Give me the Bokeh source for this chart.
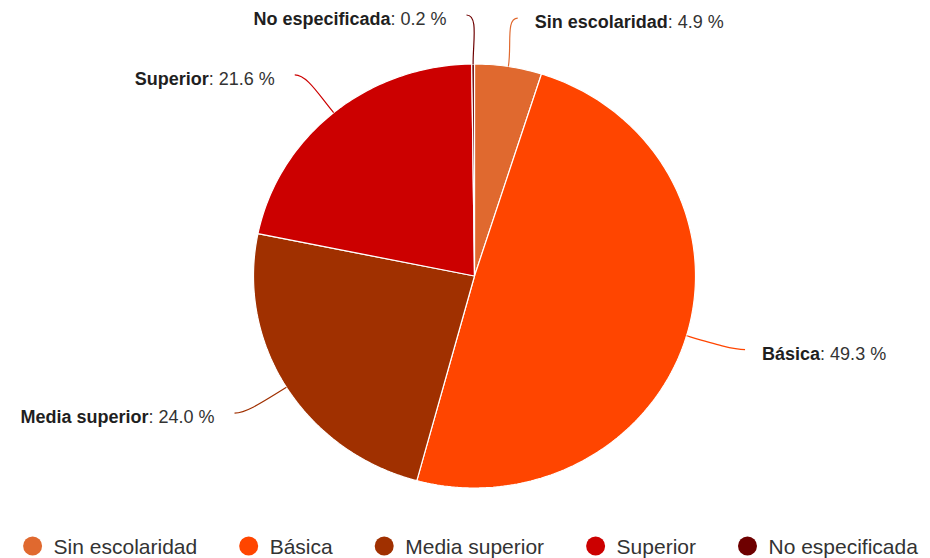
import os
import math
import numpy as np
from bokeh.plotting import figure
from bokeh.models import Range1d, ColumnDataSource
from bokeh.core.properties import value
from bokeh.embed import file_html
from bokeh.resources import INLINE

# ---- data ----
categories = ["Sin escolaridad", "Básica", "Media superior", "Superior", "No especificada"]
percentages = [4.9, 49.3, 24.0, 21.6, 0.2]
colors = ["#E0692F", "#FF4500", "#A03000", "#CC0000", "#6E0000"]

# ---- layout constants ----
W, H = 922, 558
CX, CY = 474, 275.5
RX, RY = 221, 212
LRX, LRY = RX + 61, RY + 49
FONT = "Liberation Sans"
LABEL_SIZE = 18
LEGEND_SIZE = 21


def find_font(name):
    roots = ["/usr/share/fonts", "/usr/local/share/fonts",
             os.path.expanduser("~/.fonts"), os.path.expanduser("~/.local/share/fonts")]
    for root in roots:
        for dp, dn, fn in os.walk(root):
            if name in fn:
                return os.path.join(dp, name)
    return None


try:
    from PIL import ImageFont
except Exception:
    ImageFont = None

_cache = {}


def text_width(s, size, bold=False):
    fname = "LiberationSans-Bold.ttf" if bold else "LiberationSans-Regular.ttf"
    if ImageFont is not None:
        path = find_font(fname)
        if path:
            key = (path, size)
            if key not in _cache:
                _cache[key] = ImageFont.truetype(path, size=int(round(size * 4)))
            return _cache[key].getlength(s) / 4.0
    return len(s) * size * (0.6 if bold else 0.55)


p = figure(width=W, height=H, x_range=Range1d(0, W), y_range=Range1d(H, 0),
           output_backend="svg", toolbar_location=None, min_border=0,
           x_axis_location=None, y_axis_location=None)
p.grid.visible = False
p.outline_line_color = None
p.background_fill_color = "white"
p.border_fill_color = "white"

vals = np.array(percentages, dtype=float)
fr = vals / vals.sum()
cum = np.concatenate([[0.0], np.cumsum(fr)])

xs, ys = [], []
for i in range(len(vals)):
    t = np.linspace(cum[i], cum[i + 1], max(4, int(fr[i] * 400))) * 2 * np.pi
    xs.append([CX] + list(CX + RX * np.sin(t)) + [CX])
    ys.append([CY] + list(CY - RY * np.cos(t)) + [CY])

p.patches(xs="xs", ys="ys", fill_color="color", line_color="white", line_width=1.2,
          source=ColumnDataSource(dict(xs=xs, ys=ys, color=colors)))

# connectors and labels
bx0, by0, bx1, by1, bcx0, bcy0, bcx1, bcy1, bcol = [], [], [], [], [], [], [], [], []
name_x, name_y, name_t, name_align = [], [], [], []
val_x, val_y, val_t, val_align = [], [], [], []
for i in range(len(vals)):
    m = (cum[i] + cum[i + 1]) / 2 * 2 * np.pi
    s, c = math.sin(m), math.cos(m)
    side = 1 if s >= 0 else -1
    ex, ey = CX + RX * s, CY - RY * c
    lx, ly = CX + side * max(LRX * abs(s), 8), CY - LRY * c
    d = math.hypot(lx - ex, ly - ey)
    bx0.append(ex); by0.append(ey)
    bcx0.append(ex + s * d * 0.45); bcy0.append(ey - c * d * 0.45)
    bcx1.append(lx - side * 12); bcy1.append(ly)
    bx1.append(lx); by1.append(ly)
    bcol.append(colors[i])
    nm = categories[i]
    vt = ": %.1f %%" % percentages[i]
    ty = ly + 4
    if side > 0:
        x0 = lx + 17
        name_x.append(x0); name_align.append("left")
        val_x.append(x0 + text_width(nm, LABEL_SIZE, True)); val_align.append("left")
    else:
        x1 = lx - 20
        val_x.append(x1); val_align.append("right")
        name_x.append(x1 - text_width(vt, LABEL_SIZE, False)); name_align.append("right")
    name_y.append(ty); val_y.append(ty)
    name_t.append(nm); val_t.append(vt)

p.bezier(x0="x0", y0="y0", x1="x1", y1="y1", cx0="cx0", cy0="cy0", cx1="cx1", cy1="cy1",
         line_color="color", line_width=1.2,
         source=ColumnDataSource(dict(x0=bx0, y0=by0, x1=bx1, y1=by1, cx0=bcx0, cy0=bcy0,
                                      cx1=bcx1, cy1=bcy1, color=bcol)))

p.text(x="x", y="y", text="t", text_align="a", text_baseline="middle",
       text_font=value(FONT), text_font_size="%spx" % LABEL_SIZE, text_font_style="bold",
       text_color="#1f1f1f",
       source=ColumnDataSource(dict(x=name_x, y=name_y, t=name_t, a=name_align)))
p.text(x="x", y="y", text="t", text_align="a", text_baseline="middle",
       text_font=value(FONT), text_font_size="%spx" % LABEL_SIZE,
       text_color="#333333",
       source=ColumnDataSource(dict(x=val_x, y=val_y, t=val_t, a=val_align)))

# legend
MARK_D = 19
MARK_GAP = 21   # marker centre to text start
ITEM_GAP = 42   # text end to next marker edge
widths = [text_width(cn, LEGEND_SIZE) for cn in categories]
total = sum(MARK_D / 2 + MARK_GAP + w for w in widths) + (len(widths) - 1) * ITEM_GAP
x = CX - 4 - total / 2
ly_leg = 545.5
mx, tx = [], []
for w in widths:
    mx.append(x + MARK_D / 2)
    tx.append(x + MARK_D / 2 + MARK_GAP)
    x += MARK_D / 2 + MARK_GAP + w + ITEM_GAP

p.scatter(x=mx, y=[ly_leg] * len(mx), size=MARK_D, marker="circle", fill_color=colors,
          line_color=None)
p.text(x=tx, y=[ly_leg] * len(tx), text=categories, text_align="left", text_baseline="middle",
       text_font=value(FONT), text_font_size="%dpx" % LEGEND_SIZE, text_color="#333333")

open("out.html", "w").write(file_html(p, INLINE))
